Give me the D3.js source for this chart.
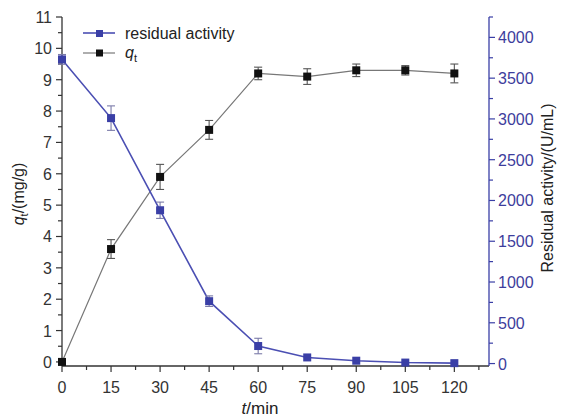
<!DOCTYPE html>
<html><head><meta charset="utf-8">
<script src="https://cdn.jsdelivr.net/npm/d3@7"></script>
<style>body{margin:0;background:#fff;} text{font-family:"Liberation Sans",Arial,sans-serif;}</style>
</head><body>
<svg id="c" width="561" height="417"></svg>
<script>
const times = [0, 15, 30, 45, 60, 75, 90, 105, 120];
const qt = [0, 3.6, 5.9, 7.4, 9.2, 9.1, 9.3, 9.3, 9.2];
const qtErr = [0, 0.3, 0.4, 0.3, 0.2, 0.25, 0.2, 0.15, 0.3];
const activity = [3730, 3010, 1880, 765, 215, 75, 35, 12, 5];
const activityErr = [60, 150, 100, 65, 95, 0, 0, 0, 0];
const xTicks = [0, 15, 30, 45, 60, 75, 90, 105, 120];
const leftTicks = [0,1,2,3,4,5,6,7,8,9,10,11];
const rightTicks = [0,500,1000,1500,2000,2500,3000,3500,4000];

const svg = d3.select("#c");
const L = 62, R = 489, T = 17, B = 366;
const blue = "#3a3fa6", blueLine = "#4b4fb3", blueTxt = "#3d3d9c";
const x = d3.scaleLinear().domain([0, 130.6]).range([L, R]);
const yl = d3.scaleLinear().domain([-0.13, 11]).range([B, T]);
const yr = d3.scaleLinear().domain([-30, 4250]).range([B, T]);

const ax = svg.append("g");

// bottom
ax.append("line").attr("x1", L).attr("x2", R).attr("y1", B).attr("y2", B).attr("stroke", "#333").attr("stroke-width", 1.3);
const xMinor = [];
for (let v = 7.5; v <= 128; v += 15) xMinor.push(v);
xTicks.forEach(v => {
  ax.append("line").attr("x1", x(v)).attr("x2", x(v)).attr("y1", B).attr("y2", B + 6).attr("stroke", "#333").attr("stroke-width", 1.2);
  ax.append("text").attr("x", x(v)).attr("y", B + 27).attr("text-anchor", "middle").attr("font-size", 16).attr("fill", "#333").text(v);
});
xMinor.forEach(v => ax.append("line").attr("x1", x(v)).attr("x2", x(v)).attr("y1", B).attr("y2", B + 4).attr("stroke", "#333").attr("stroke-width", 1.2));

// left
ax.append("line").attr("x1", L).attr("x2", L).attr("y1", T).attr("y2", B).attr("stroke", "#333").attr("stroke-width", 1.3);
leftTicks.forEach(v => {
  ax.append("line").attr("x1", L - 6).attr("x2", L).attr("y1", yl(v)).attr("y2", yl(v)).attr("stroke", "#333").attr("stroke-width", 1.2);
  ax.append("text").attr("x", L - 10).attr("y", yl(v) + 6).attr("text-anchor", "end").attr("font-size", 16).attr("fill", "#333").text(v);
});
for (let v = 0.5; v < 11; v += 1)
  ax.append("line").attr("x1", L - 4).attr("x2", L).attr("y1", yl(v)).attr("y2", yl(v)).attr("stroke", "#333").attr("stroke-width", 1.2);

// right
ax.append("line").attr("x1", R).attr("x2", R).attr("y1", T).attr("y2", B).attr("stroke", blue).attr("stroke-width", 1.3);
rightTicks.forEach(v => {
  ax.append("line").attr("x1", R).attr("x2", R + 6).attr("y1", yr(v)).attr("y2", yr(v)).attr("stroke", blue).attr("stroke-width", 1.2);
  ax.append("text").attr("x", R + 9).attr("y", yr(v) + 6).attr("text-anchor", "start").attr("font-size", 16).attr("fill", blueTxt).text(v);
});
for (let v = 250; v <= 4250; v += 500)
  ax.append("line").attr("x1", R).attr("x2", R + 4).attr("y1", yr(v)).attr("y2", yr(v)).attr("stroke", blue).attr("stroke-width", 1.2);

// axis titles
const lt = svg.append("text").attr("transform", "translate(24,194) rotate(-90)").attr("text-anchor", "middle").attr("font-size", 16).attr("fill", "#222");
lt.append("tspan").attr("font-style", "italic").text("q");
lt.append("tspan").attr("font-size", 11).attr("dy", 4).text("t");
lt.append("tspan").attr("dy", -4).text("/(mg/g)");

svg.append("text").attr("transform", "translate(553,188) rotate(-90)").attr("text-anchor", "middle").attr("font-size", 16).attr("fill", "#222").text("Residual activity/(U/mL)");

const xt = svg.append("text").attr("x", 260).attr("y", 414).attr("text-anchor", "middle").attr("font-size", 17).attr("fill", "#222");
xt.append("tspan").attr("font-style", "italic").text("t");
xt.append("tspan").text("/min");

const qData = times.map((t, i) => ({ t, v: qt[i], e: qtErr[i] }));
const aData = times.map((t, i) => ({ t, v: activity[i], e: activityErr[i] }));

svg.append("path").datum(qData).attr("fill", "none").attr("stroke", "#777").attr("stroke-width", 1.2)
  .attr("d", d3.line().x(d => x(d.t)).y(d => yl(d.v)));
svg.append("path").datum(aData).attr("fill", "none").attr("stroke", blueLine).attr("stroke-width", 1.6)
  .attr("d", d3.line().x(d => x(d.t)).y(d => yr(d.v)));

function errBars(data, y, color) {
  const g = svg.append("g").attr("stroke", color).attr("stroke-width", 1.1);
  data.filter(d => d.e > 0).forEach(d => {
    const cx = x(d.t), y1 = y(d.v - d.e), y2 = y(d.v + d.e);
    g.append("line").attr("x1", cx).attr("x2", cx).attr("y1", y1).attr("y2", y2);
    g.append("line").attr("x1", cx - 4).attr("x2", cx + 4).attr("y1", y1).attr("y2", y1);
    g.append("line").attr("x1", cx - 4).attr("x2", cx + 4).attr("y1", y2).attr("y2", y2);
  });
}
errBars(qData, yl, "#555");
errBars(aData, yr, "#7a7aa8");

const ms = 8;
svg.append("g").selectAll("rect").data(qData).join("rect")
  .attr("x", d => x(d.t) - ms / 2).attr("y", d => yl(d.v) - ms / 2).attr("width", ms).attr("height", ms).attr("fill", "#111");
svg.append("g").selectAll("rect").data(aData).join("rect")
  .attr("x", d => x(d.t) - ms / 2).attr("y", d => yr(d.v) - ms / 2).attr("width", ms).attr("height", ms).attr("fill", blue);

// legend
const lg = svg.append("g");
lg.append("line").attr("x1", 83).attr("x2", 115).attr("y1", 33).attr("y2", 33).attr("stroke", blueLine).attr("stroke-width", 1.6);
lg.append("rect").attr("x", 96).attr("y", 30).attr("width", 7).attr("height", 7).attr("fill", blue);
lg.append("text").attr("x", 125).attr("y", 39).attr("font-size", 16).attr("fill", "#222").text("residual activity");
lg.append("line").attr("x1", 83).attr("x2", 115).attr("y1", 53).attr("y2", 53).attr("stroke", "#777").attr("stroke-width", 1.2);
lg.append("rect").attr("x", 96).attr("y", 49.5).attr("width", 7).attr("height", 7).attr("fill", "#111");
const l2 = lg.append("text").attr("x", 125).attr("y", 58).attr("font-size", 16).attr("fill", "#222");
l2.append("tspan").attr("font-style", "italic").text("q");
l2.append("tspan").attr("font-size", 11).attr("dy", 4).text("t");
</script>
</body></html>
